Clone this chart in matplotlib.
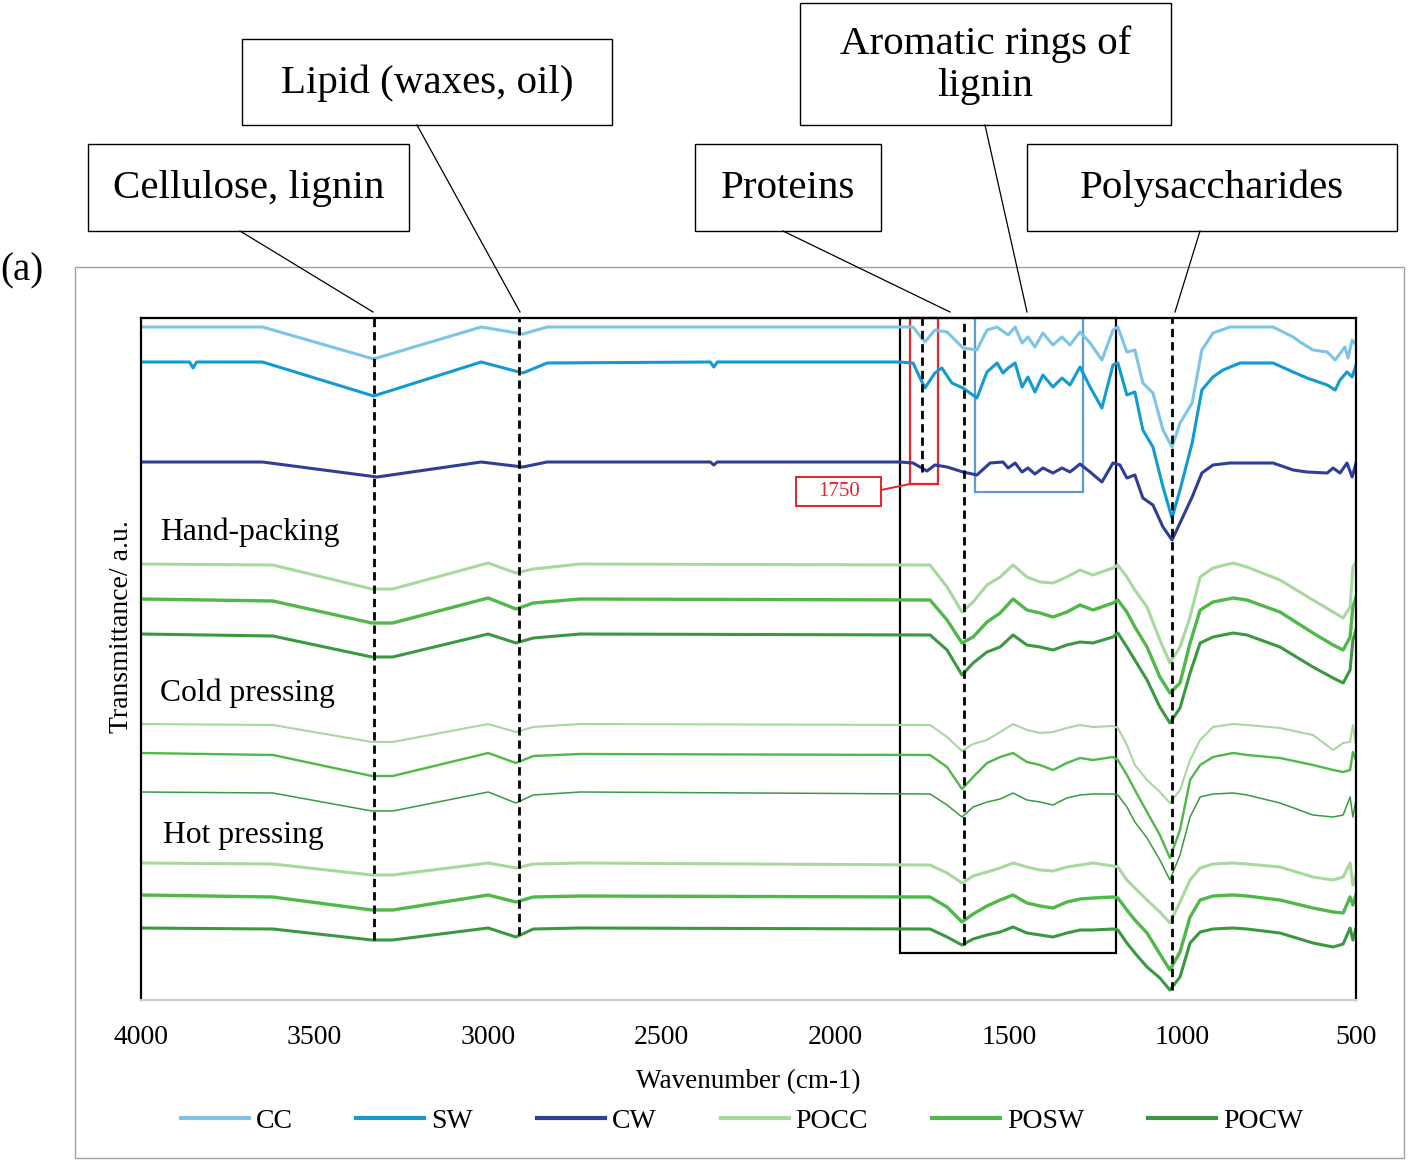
import numpy as np
import matplotlib.pyplot as plt
from matplotlib.patches import Rectangle
from matplotlib.lines import Line2D

plt.rcParams['font.family'] = ['Liberation Serif', 'DejaVu Serif']

# ---- raw spectra (wavenumber cm-1, transmittance a.u. with stacking offset) ----
cc_wn = [4000, 3650, 3330, 3020, 2900, 2830, 1814, 1776, 1742, 1713, 1678, 1632, 1592, 1563, 1534,
         1502, 1482, 1462, 1445, 1425, 1402, 1373, 1347, 1324, 1295, 1266, 1232, 1200, 1186, 1160,
         1137, 1114, 1085, 1056, 1030, 1007, 972, 944, 912, 863, 739, 681, 661, 624, 583, 560, 532,
         523, 511, 500]
cc_t = [67.3, 67.3, 64.1, 67.3, 66.6, 67.3, 67.3, 67.3, 65.8, 67.0, 66.8, 65.2, 65.0, 67.0, 67.3,
        66.5, 67.3, 65.7, 66.3, 65.3, 66.7, 65.5, 66.3, 65.5, 66.8, 65.7, 64.0, 67.0, 67.3, 64.8,
        65.0, 61.7, 60.7, 57.0, 55.3, 57.7, 59.7, 65.0, 66.7, 67.3, 67.3, 66.3, 65.8, 65.0, 64.8,
        64.0, 65.3, 64.2, 66.0, 65.5]

sw_wn = [4000, 3860, 3850, 3840, 3650, 3330, 3020, 2900, 2830, 2360, 2350, 2340, 1814, 1776, 1742,
         1713, 1693, 1664, 1632, 1592, 1563, 1534, 1517, 1502, 1482, 1462, 1445, 1425, 1402, 1373,
         1347, 1324, 1295, 1266, 1232, 1200, 1186, 1160, 1137, 1114, 1085, 1056, 1030, 1007, 972,
         944, 912, 883, 834, 739, 681, 641, 583, 560, 546, 526, 511, 500]
sw_t = [63.8, 63.8, 63.2, 63.8, 63.8, 60.4, 63.8, 62.7, 63.7, 63.8, 63.3, 63.8, 63.8, 63.7, 61.2,
        62.7, 63.2, 61.7, 61.2, 60.2, 62.8, 63.7, 62.7, 63.2, 63.7, 61.3, 62.3, 60.8, 62.5, 61.3,
        62.2, 61.5, 63.3, 61.3, 59.2, 63.5, 63.7, 60.5, 60.8, 57.0, 55.3, 51.3, 48.2, 51.0, 55.7,
        61.0, 62.3, 63.0, 63.7, 63.7, 62.8, 62.2, 61.5, 61.0, 62.0, 62.8, 62.3, 63.5]

cw_wn = [4000, 3650, 3320, 3020, 2900, 2830, 2360, 2350, 2340, 1814, 1776, 1736, 1713, 1678, 1632,
         1592, 1554, 1517, 1502, 1482, 1462, 1445, 1425, 1402, 1373, 1347, 1324, 1295, 1266, 1232,
         1200, 1180, 1160, 1137, 1114, 1085, 1056, 1030, 1007, 972, 944, 912, 863, 739, 681, 641,
         583, 566, 546, 526, 511, 500]
cw_t = [53.8, 53.8, 52.3, 53.8, 53.3, 53.8, 53.8, 53.5, 53.8, 53.8, 53.7, 52.9, 53.5, 53.3, 52.8,
        52.5, 53.7, 53.8, 53.2, 53.7, 52.8, 53.2, 52.6, 53.2, 52.7, 53.2, 52.8, 53.6, 52.8, 51.8,
        53.7, 53.5, 52.2, 52.5, 50.2, 49.5, 47.3, 46.0, 47.7, 50.3, 52.7, 53.5, 53.7, 53.7, 53.0,
        52.8, 52.7, 53.2, 52.7, 53.7, 52.3, 53.7]

# pellets (PO*) share one wavenumber grid
po_wn = [4000, 3620, 3335, 3275, 3000, 2920, 2870, 2735, 1727, 1678, 1635, 1603, 1563, 1525, 1488,
         1448, 1410, 1373, 1333, 1295, 1258, 1200, 1186, 1160, 1137, 1102, 1065, 1036, 1007, 978,
         949, 912, 854, 814, 719, 624, 566, 537, 517, 509, 500]

hand_pocc = [43.6, 43.5, 41.1, 41.1, 43.7, 42.7, 43.1, 43.6, 43.5, 41.3, 38.8, 39.8, 41.5, 42.3, 43.5,
             42.3, 41.8, 41.7, 42.3, 43.0, 42.5, 43.2, 43.5, 42.3, 41.0, 39.3, 36.0, 33.7, 35.3, 38.3,
             42.3, 43.2, 43.7, 43.3, 42.0, 40.0, 38.8, 38.2, 39.3, 43.3, 43.8]
hand_posw = [40.1, 39.9, 37.7, 37.7, 40.2, 39.1, 39.7, 40.1, 40.0, 38.0, 35.7, 36.3, 37.8, 38.7, 40.1,
             39.0, 38.7, 38.3, 38.8, 39.5, 39.0, 39.7, 40.0, 38.8, 37.3, 35.3, 32.3, 30.7, 31.7, 35.7,
             39.0, 39.8, 40.2, 40.0, 38.8, 36.7, 35.5, 35.0, 36.3, 39.3, 40.3]
hand_pocw = [36.6, 36.4, 34.3, 34.3, 36.6, 35.7, 36.2, 36.6, 36.5, 35.0, 32.5, 33.7, 34.8, 35.3, 36.5,
             35.5, 35.3, 35.0, 35.5, 35.8, 35.7, 36.3, 36.7, 35.3, 34.0, 32.0, 29.3, 27.7, 29.2, 32.7,
             35.7, 36.3, 36.7, 36.5, 35.3, 33.3, 32.2, 31.7, 33.0, 36.0, 37.0]

cold_pocc = [27.6, 27.5, 25.8, 25.8, 27.6, 26.8, 27.3, 27.6, 27.5, 26.3, 24.9, 25.6, 26.0, 26.8, 27.6,
             27.0, 26.7, 26.8, 27.2, 27.5, 27.3, 27.4, 27.2, 25.5, 23.5, 22.0, 20.8, 19.7, 21.0, 24.0,
             26.0, 27.3, 27.6, 27.5, 27.2, 26.5, 25.0, 25.7, 25.8, 27.5, 25.5]
cold_posw = [24.7, 24.5, 22.4, 22.4, 24.7, 23.7, 24.4, 24.6, 24.5, 23.3, 21.1, 22.3, 23.7, 24.3, 24.7,
             23.8, 23.5, 23.0, 23.7, 24.2, 24.0, 24.3, 24.0, 22.5, 21.0, 18.8, 16.5, 14.2, 17.0, 22.0,
             23.5, 24.3, 24.7, 24.5, 24.2, 23.5, 23.0, 22.8, 23.0, 24.8, 24.0]
cold_pocw = [20.8, 20.7, 18.9, 18.9, 20.8, 19.7, 20.5, 20.8, 20.6, 19.5, 18.3, 19.3, 19.8, 20.1, 20.7,
             20.0, 19.8, 19.5, 20.2, 20.5, 20.6, 20.6, 20.5, 19.3, 17.8, 16.2, 14.0, 12.0, 14.5, 18.3,
             20.3, 20.6, 20.7, 20.5, 19.7, 18.5, 18.3, 18.5, 20.3, 18.3, 20.0]

hot_pocc = [13.7, 13.6, 12.5, 12.5, 13.7, 13.2, 13.6, 13.7, 13.5, 12.7, 11.7, 12.4, 12.8, 13.2, 13.7,
            13.3, 13.0, 12.9, 13.3, 13.5, 13.7, 13.4, 13.3, 12.0, 11.2, 10.0, 8.8, 7.7, 9.8, 12.0,
            13.2, 13.6, 13.7, 13.6, 13.3, 12.3, 12.0, 12.3, 13.7, 11.5, 12.5]
hot_posw = [10.5, 10.3, 9.0, 9.0, 10.5, 9.8, 10.3, 10.4, 10.3, 9.3, 7.8, 8.6, 9.4, 10.0, 10.5,
            9.7, 9.4, 9.2, 9.8, 10.1, 10.2, 10.3, 10.2, 9.0, 8.0, 6.7, 4.6, 3.0, 4.8, 8.3,
            10.0, 10.4, 10.5, 10.4, 10.0, 9.2, 8.8, 8.7, 10.3, 9.5, 10.5]
hot_pocw = [7.2, 7.1, 6.0, 6.0, 7.2, 6.3, 7.1, 7.2, 7.1, 6.3, 5.5, 6.1, 6.5, 6.8, 7.3,
            6.7, 6.5, 6.3, 6.7, 7.0, 7.0, 7.1, 7.0, 5.7, 4.7, 3.3, 2.2, 1.0, 2.3, 5.7,
            6.8, 7.1, 7.2, 7.1, 6.7, 5.7, 5.3, 5.6, 7.2, 6.0, 7.2]

# band markers
band_wn = [3330, 2910, 1750, 1630, 1030]
band_bottom = [6.0, 6.5, 52.8, 5.5, 1.0]

c_cc, c_sw, c_cw = '#7cc5e6', '#129bd3', '#2e3d98'
c_pocc, c_posw, c_pocw = '#a8d89e', '#4fb848', '#3a9940'

W, H = 1409, 1166
fig = plt.figure(figsize=(W / 100, H / 100), dpi=100)

def fx(px):
    return px / W

def fy(py):
    return 1 - py / H

ax = fig.add_axes([fx(141), fy(1000), fx(1356) - fx(141), fy(318) - fy(1000)])

ax.plot(cc_wn, cc_t, color=c_cc, lw=2.2, label='CC')
ax.plot(sw_wn, sw_t, color=c_sw, lw=2.2, label='SW')
ax.plot(cw_wn, cw_t, color=c_cw, lw=2.2, label='CW')
ax.plot(po_wn, hand_pocc, color=c_pocc, lw=2.2, label='POCC')
ax.plot(po_wn, hand_posw, color=c_posw, lw=2.4, label='POSW')
ax.plot(po_wn, hand_pocw, color=c_pocw, lw=2.2, label='POCW')
ax.plot(po_wn, cold_pocc, color=c_pocc, lw=1.5)
ax.plot(po_wn, cold_posw, color=c_posw, lw=1.7)
ax.plot(po_wn, cold_pocw, color=c_pocw, lw=1.1)
ax.plot(po_wn, hot_pocc, color=c_pocc, lw=2.2)
ax.plot(po_wn, hot_posw, color=c_posw, lw=2.4)
ax.plot(po_wn, hot_pocw, color=c_pocw, lw=2.2)

ax.set_xlim(4000, 500)
ax.set_ylim(0, 68.2)
ax.set_xticks(np.arange(4000, 499, -500))
ax.set_yticks([])
ax.tick_params(axis='x', length=0, pad=18, labelsize=20)
for s in ['left', 'right', 'top']:
    ax.spines[s].set_linewidth(1.6)
ax.spines['bottom'].set_color('#cccccc')
ax.spines['bottom'].set_linewidth(1.5)
ax.set_xlabel('Wavenumber (cm-1)', fontsize=19.5, labelpad=14)
ax.set_ylabel('Transmittance/ a.u.', fontsize=20)
ax.yaxis.set_label_coords(-0.006, 0.548)

# dashed band lines
for w, yb in zip(band_wn, band_bottom):
    ax.plot([w, w], [yb, 68.2], color='k', lw=2, dashes=(3, 1.8), clip_on=False)

# highlight boxes
ax.add_patch(Rectangle((1190, 4.7), 1815 - 1190, 68.2 - 4.7, fill=False, ec='k', lw=1.6, clip_on=False))
ax.add_patch(Rectangle((1704, 51.6), 1785 - 1704, 68.2 - 51.6, fill=False, ec='#e8232b', lw=1.6, clip_on=False))
ax.add_patch(Rectangle((1286, 50.8), 1598 - 1286, 68.2 - 50.8, fill=False, ec='#5b9bd5', lw=1.6, clip_on=False))
ax.add_patch(Rectangle((1868, 49.4), 2113 - 1868, 2.9, fill=False, ec='#e8232b', lw=1.4))
ax.plot([1868, 1785], [51.0, 51.6], color='#e8232b', lw=1.4)
ax.text(1990, 50.85, '1750', color='#e8232b', fontsize=15, ha='center', va='center')

ax.text(3945, 46.8, 'Hand-packing', fontsize=22.8, va='center')
ax.text(3945, 30.7, 'Cold pressing', fontsize=22.8, va='center')
ax.text(3937, 16.5, 'Hot pressing', fontsize=22.8, va='center')

fig.legend(loc='center', bbox_to_anchor=(fx(742), fy(1121)), ncol=6, frameon=False, fontsize=20,
           handlelength=2.45, handletextpad=0.25, columnspacing=2.3)
for ln in fig.legends[0].get_lines():
    ln.set_linewidth(3)

# callout boxes above the plot
callouts = [(88, 144, 409, 231, 'Cellulose, lignin'),
            (242, 39, 612, 125, 'Lipid (waxes, oil)'),
            (695, 144, 881, 231, 'Proteins'),
            (800, 3, 1171, 125, 'Aromatic rings of\nlignin'),
            (1027, 144, 1397, 231, 'Polysaccharides')]
leaders = [(240, 231, 373, 312), (417, 125, 520, 312), (783, 231, 950, 312),
           (985, 125, 1027, 312), (1200, 231, 1175, 312)]
for x0, y0, x1, y1, txt in callouts:
    fig.patches.append(Rectangle((fx(x0), fy(y1)), fx(x1) - fx(x0), fy(y0) - fy(y1),
                                 transform=fig.transFigure, fill=False, ec='k', lw=1))
    fig.text(fx((x0 + x1) / 2), fy((y0 + y1) / 2 + 1), txt, fontsize=29.5, ha='center', va='center',
             linespacing=1.18)
for x0, y0, x1, y1 in leaders:
    fig.lines.append(Line2D([fx(x0), fx(x1)], [fy(y0), fy(y1)], transform=fig.transFigure,
                            color='k', lw=0.9))

fig.patches.append(Rectangle((fx(75), fy(1158)), fx(1404) - fx(75), fy(267) - fy(1158),
                             transform=fig.transFigure, fill=False, ec='#a0a0a0', lw=1))
fig.text(fx(22), fy(271), '(a)', fontsize=28, ha='center', va='center')

fig.savefig('out.png', dpi=100)
